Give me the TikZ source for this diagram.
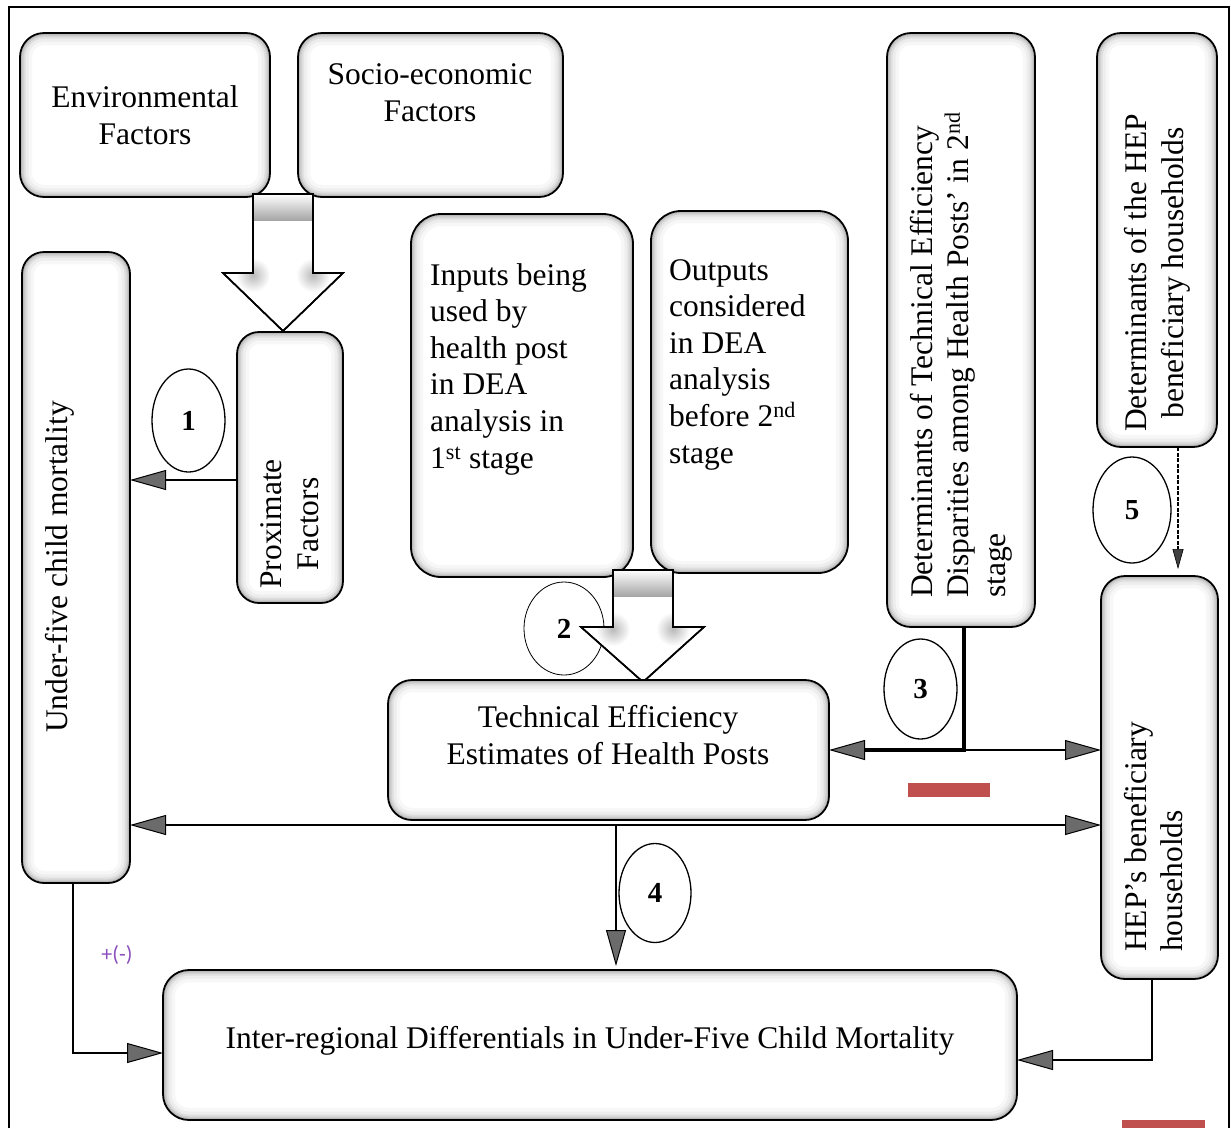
\documentclass[tikz,border=0pt]{standalone}
\usepackage{fontspec}
\setmainfont{Liberation Serif}
\newfontfamily\lblfont{Carlito}
\usetikzlibrary{arrows.meta,shapes.geometric,calc}
\definecolor{tipgray}{gray}{0.42}
\definecolor{lblpurple}{RGB}{140,80,190}
\definecolor{redmark}{RGB}{192,80,77}
\newcommand\mybevel[2]{%
  \begin{scope}
    \clip[rounded corners=#2] (#1.south west) rectangle (#1.north east);
    \draw[line width=24pt, gray!6, rounded corners=#2] (#1.south west) rectangle (#1.north east);
    \draw[line width=17pt, gray!14, rounded corners=#2] (#1.south west) rectangle (#1.north east);
    \draw[line width=11pt, gray!26, rounded corners=#2] (#1.south west) rectangle (#1.north east);
    \draw[line width=7pt, gray!40, rounded corners=#2] (#1.south west) rectangle (#1.north east);
    \draw[line width=4pt, gray!55, rounded corners=#2] (#1.south west) rectangle (#1.north east);
  \end{scope}
  \draw[line width=1.8pt, rounded corners=#2] (#1.south west) rectangle (#1.north east);
}
\begin{document}
\begin{tikzpicture}[x=1pt,y=-1pt,
  font=\fontsize{31.5}{36.6}\selectfont,
  rbox/.style={fill=white, inner sep=0pt, outer sep=0pt},
  num/.style={draw, ellipse, line width=1.3pt, inner sep=0pt, fill=white,
    font=\fontsize{29}{30}\selectfont\bfseries},
  conn/.style={line width=2.6pt},
  gtip/.style={-{Triangle[length=36pt,width=20pt,fill=tipgray,line width=1pt]}},
  gboth/.style={{Triangle[length=36pt,width=20pt,fill=tipgray,line width=1pt]}-{Triangle[length=36pt,width=20pt,fill=tipgray,line width=1pt]}},
  blockarrow/.style={draw=black, line width=1.6pt, fill=white, line join=miter},
  softshade/.style={inner color=gray!55, outer color=white},
  rottext/.style={rotate=90, inner sep=0pt}
]
\useasboundingbox (0,0) rectangle (1231,1128);
% outer frame
\draw[line width=1.5pt] (9,1128) -- (9,7) -- (1229,7) -- (1229,1128);

% top factor boxes
\node[rbox, minimum width=250pt, minimum height=164pt] (env) at (145,115) {};
\mybevel{env}{24pt}
\node[align=center] (envT) at (145,115) {Environmental\\Factors};
\node[rbox, minimum width=265pt, minimum height=164pt] (soc) at (430.5,115) {};
\mybevel{soc}{24pt}
\node[align=center] (socT) at (430,93) {Socio-economic\\Factors};

% under-five
\node[rbox, minimum width=108pt, minimum height=631pt] (u5) at (76,567.5) {};
\mybevel{u5}{22pt}
\node[rottext] (u5T) at (60,567) {Under-five child mortality};

% proximate
\node[rbox, minimum width=106pt, minimum height=271pt] (prox) at (290,467.5) {};
\mybevel{prox}{22pt}
\node[rottext, align=center] (proxT) at (290,524) {Proximate\\Factors};

% block arrow 1
\coordinate (ba1) at (253,194);
\path[blockarrow] (ba1) -- (313,194) -- (313,273) -- (343,273) -- (283,331) -- (223,273) -- (253,273) -- cycle;
\begin{scope}
  \clip (ba1) -- (313,194) -- (313,273) -- (343,273) -- (283,331) -- (223,273) -- (253,273) -- cycle;
  \shade[top color=white, bottom color=gray!70] (253,220) rectangle (313,194);
  \shade[softshade] (253,275) circle (17);
  \shade[softshade] (313,275) circle (17);
\end{scope}
\path[blockarrow, fill=none] (ba1) -- (313,194) -- (313,273) -- (343,273) -- (283,331) -- (223,273) -- (253,273) -- cycle;

% inputs / outputs
\node[rbox, minimum width=222pt, minimum height=363pt] (inp) at (522,395.5) {};
\mybevel{inp}{30pt}
\node[align=left, anchor=north west, inner sep=0pt] (inpT) at (430,263) {Inputs being\\used by\\health post\\in DEA\\analysis in\\1\textsuperscript{st} stage};
\node[rbox, minimum width=197pt, minimum height=362pt] (outp) at (749.5,392) {};
\mybevel{outp}{30pt}
\node[align=left, anchor=north west, inner sep=0pt] (outT) at (669,259) {Outputs\\considered\\in DEA\\analysis\\before 2\textsuperscript{nd}\\stage};

% circle 2 then block arrow 2
\node[num, line width=0.8pt, minimum width=80pt, minimum height=93pt] (c2) at (564,628.5) {2};
\coordinate (ba2) at (613,570);
\path[blockarrow] (ba2) -- (673,570) -- (673,627) -- (704,627) -- (643,682) -- (581,627) -- (613,627) -- cycle;
\begin{scope}
  \clip (ba2) -- (673,570) -- (673,627) -- (704,627) -- (643,682) -- (581,627) -- (613,627) -- cycle;
  \shade[top color=white, bottom color=gray!70] (613,596) rectangle (673,570);
  \shade[softshade] (613,629) circle (17);
  \shade[softshade] (673,629) circle (17);
\end{scope}
\path[blockarrow, fill=none] (ba2) -- (673,570) -- (673,627) -- (704,627) -- (643,682) -- (581,627) -- (613,627) -- cycle;

% technical efficiency
\node[rbox, minimum width=441pt, minimum height=140pt] (te) at (608.5,750) {};
\mybevel{te}{24pt}
\node[align=center] (teT) at (608,735) {Technical Efficiency\\Estimates of Health Posts};

% determinants TE
\node[rbox, minimum width=148pt, minimum height=594pt] (dte) at (961,330) {};
\mybevel{dte}{24pt}
\node[rottext, anchor=north west, align=left] (dteT) at (910,598) {Determinants of Technical Efficiency\\Disparities among Health Posts’ in 2\textsuperscript{nd}\\stage};

% determinants HEP
\node[rbox, minimum width=120pt, minimum height=414pt] (dhep) at (1157,240) {};
\mybevel{dhep}{24pt}
\node[rottext, align=center] (dhepT) at (1157,273) {Determinants of the HEP\\beneficiary households};

% HEP beneficiary households
\node[rbox, minimum width=117pt, minimum height=403pt] (hep) at (1159.5,777.5) {};
\mybevel{hep}{24pt}
\node[rottext, anchor=north west, align=left] (hepT) at (1124,952) {HEP’s beneficiary\\households};

% bottom box
\node[rbox, minimum width=854pt, minimum height=150pt] (bot) at (590,1045) {};
\mybevel{bot}{26pt}
\node (botT) at (590,1041) {Inter-regional Differentials in Under-Five Child Mortality};

% numbered ellipses
\node[num, minimum width=73pt, minimum height=103pt] (c1) at (188.5,420.5) {1};
\node[num, minimum width=73pt, minimum height=100pt] (c3) at (920.5,689) {3};
\node[num, minimum width=72pt, minimum height=99pt] (c4) at (655,893) {4};
\node[num, minimum width=78pt, minimum height=106pt] (c5) at (1132,510) {5};

% connector 1
\coordinate (p1) at ([yshift=-12.5pt]prox.west);
\draw[conn, gtip] (p1) -- (u5.east |- p1);

% connector 3
\coordinate (j3) at ([xshift=3pt]dte.south);
\coordinate (k3) at (j3 |- te.east);
\draw[line width=3.6pt] (j3) -- ([yshift=-1.8pt]k3);
\draw[line width=3.6pt, gtip] (k3) -- (te.east);
\draw[conn, gtip] (k3) -- (hep.west |- k3);

% long line
\coordinate (L) at ([yshift=-5pt]te.south);
\draw[conn, gboth] (u5.east |- L) -- (hep.west |- L);

% connector 4
\coordinate (a4) at ([xshift=7.5pt]L);
\draw[conn, gtip, shorten >=4pt] (a4) -- (a4 |- bot.north);

% bottom connectors
\coordinate (b1) at ([xshift=-3pt]u5.south);
\coordinate (b2) at ([yshift=-8pt]bot.west);
\draw[conn, gtip] (b1) |- (b2);
\coordinate (b3) at ([xshift=-7.5pt]hep.south);
\coordinate (b4) at ([yshift=-15pt]bot.east);
\draw[conn, gtip] (b3) |- (b4);

% dashed connector 5
\coordinate (d5) at ([xshift=21pt]dhep.south);
\draw[line width=1.1pt, dash pattern=on 4pt off 1.5pt, shorten >=7pt,
  -{Triangle[length=20pt,width=11pt,fill=darkgray,line width=0.6pt]}] (d5) -- (d5 |- hep.north);

% label
\node[text=lblpurple, font=\lblfont\fontsize{22}{24}\selectfont] (pm) at (117,955) {+(-)};

% red marks
\fill[redmark] (908,783) rectangle (990,797);
\fill[redmark] (1122,1120) rectangle (1205,1128);
\end{tikzpicture}
\end{document}
